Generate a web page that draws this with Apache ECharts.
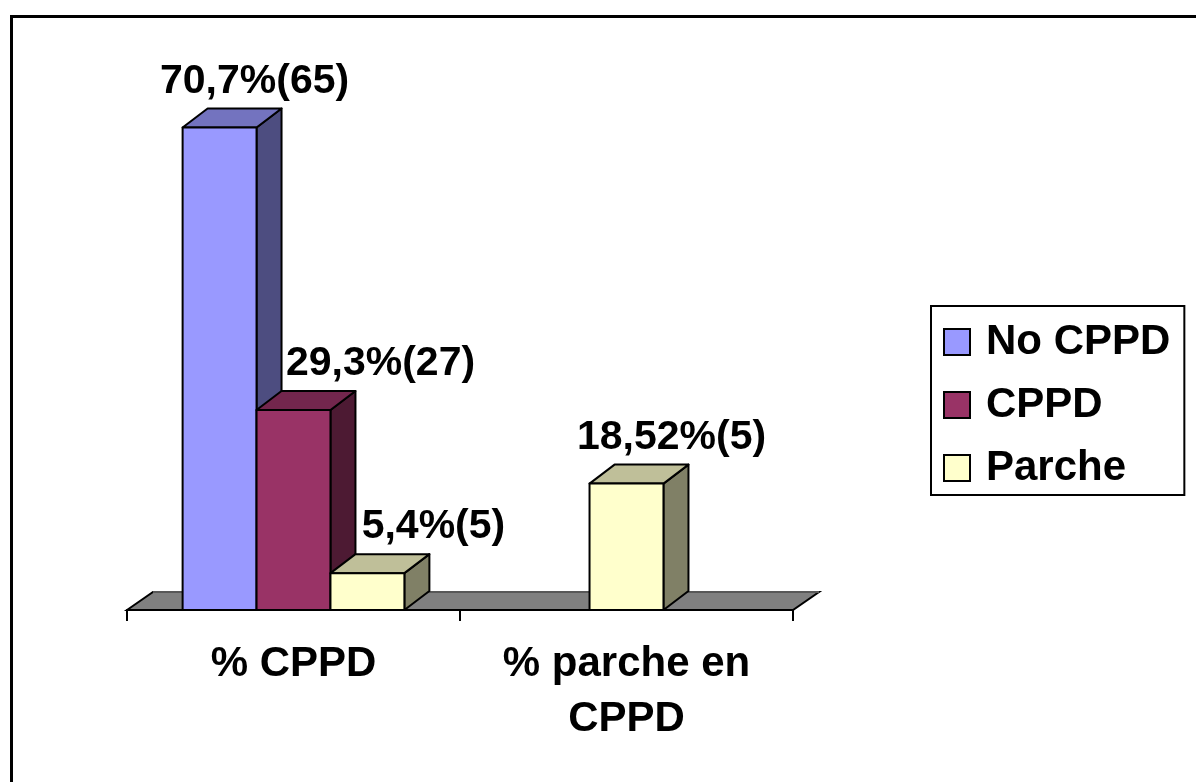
<!DOCTYPE html>
<html>
<head>
<meta charset="utf-8">
<script src="https://cdn.jsdelivr.net/npm/echarts@6/dist/echarts.min.js"></script>
<style>
  html, body { margin: 0; padding: 0; background: #ffffff; }
  #chart { width: 1196px; height: 782px; }
</style>
</head>
<body>
<div id="chart"></div>
<script>
// ---- data ----
const categories = ['% CPPD', '% parche en\nCPPD'];
const seriesNames = ['No CPPD', 'CPPD', 'Parche'];
const noCppdPct = [70.7, null];
const cppdPct = [29.3, null];
const parchePct = [5.4, 18.52];
const noCppdCount = [65, null];
const cppdCount = [27, null];
const parcheCount = [5, 5];

const pctBySeries = [noCppdPct, cppdPct, parchePct];
const countBySeries = [noCppdCount, cppdCount, parcheCount];

// ---- style ----
const FONT = '"Liberation Sans", Arial, sans-serif';
const faces = [
  { front: '#9999FF', top: '#7373BF', side: '#4D4D80' },
  { front: '#993366', top: '#73264D', side: '#4D1A33' },
  { front: '#FFFFCC', top: '#BFBF99', side: '#808066' }
];
const DEPTH_X = 25, DEPTH_Y = -19;         // oblique depth of the columns
const FLOOR_X = 26, FLOOR_Y = -18;         // oblique depth of the floor
const BAR_RATIO = 0.222;                   // column width relative to the category band
// horizontal shift of each value label from the column centre, per series / category
const labelShiftX = [[35, 0], [87, 0], [66, 45]];
const LABEL_RISE = 46;

function fmtLabel(v, n) {
  return String(v).replace('.', ',') + '%(' + n + ')';
}

function makeColumnSeries(si) {
  const data = [];
  pctBySeries[si].forEach((v, ci) => {
    if (v != null) data.push([ci, v, countBySeries[si][ci]]);
  });
  return {
    name: seriesNames[si],
    type: 'custom',
    z: 3,
    silent: true,
    itemStyle: { color: faces[si].front, borderColor: '#000', borderWidth: 2 },
    data: data,
    renderItem: function (params, api) {
      const ci = api.value(0);
      const v = api.value(1);
      const n = api.value(2);
      // columns present in this category sit side by side around its centre
      const present = [];
      pctBySeries.forEach((arr, k) => { if (arr[ci] != null) present.push(k); });
      const slot = present.indexOf(si);
      const band = api.size([1, 0])[0];
      const bw = band * BAR_RATIO;
      const topPt = api.coord([ci, v]);
      const y0 = api.coord([ci, 0])[1];
      const x0 = topPt[0] - present.length * bw / 2 + slot * bw;
      const x1 = x0 + bw;
      const yt = topPt[1];
      const f = faces[si];
      const stroke = { stroke: '#000', lineWidth: 2, lineJoin: 'round' };
      return {
        type: 'group',
        children: [
          {
            type: 'polygon',
            shape: { points: [[x1, yt], [x1 + DEPTH_X, yt + DEPTH_Y], [x1 + DEPTH_X, y0 + DEPTH_Y], [x1, y0]] },
            style: Object.assign({ fill: f.side }, stroke)
          },
          {
            type: 'polygon',
            shape: { points: [[x0, yt], [x0 + DEPTH_X, yt + DEPTH_Y], [x1 + DEPTH_X, yt + DEPTH_Y], [x1, yt]] },
            style: Object.assign({ fill: f.top }, stroke)
          },
          {
            type: 'rect',
            shape: { x: x0, y: yt, width: bw, height: y0 - yt },
            style: Object.assign({ fill: f.front }, stroke)
          },
          {
            type: 'text',
            style: {
              text: fmtLabel(v, n),
              x: (x0 + x1) / 2 + labelShiftX[si][ci],
              y: yt - LABEL_RISE,
              align: 'center',
              verticalAlign: 'middle',
              fontSize: 41,
              fontWeight: 'bold',
              fontFamily: FONT,
              fill: '#000'
            }
          }
        ]
      };
    }
  };
}

// grey floor under the columns, spanning the category axis
const floorSeries = {
  name: 'floor',
  type: 'custom',
  z: 1,
  silent: true,
  data: [[0, 0]],
  renderItem: function (params, api) {
    const cs = params.coordSys;
    const y0 = api.coord([0, 0])[1];
    const xl = cs.x, xr = cs.x + cs.width;
    return {
      type: 'group',
      children: [
        {
          type: 'polygon',
          shape: { points: [[xl, y0], [xl + FLOOR_X, y0 + FLOOR_Y], [xr + FLOOR_X, y0 + FLOOR_Y], [xr, y0]] },
          style: { fill: '#808080', stroke: '#000', lineWidth: 2 }
        },
        {
          type: 'line',
          shape: { x1: xl + FLOOR_X, y1: y0 + FLOOR_Y, x2: xr + FLOOR_X, y2: y0 + FLOOR_Y },
          style: { stroke: '#B0B0B0', lineWidth: 1 }
        }
      ]
    };
  }
};

const chart = echarts.init(document.getElementById('chart'), null, { renderer: 'canvas' });
chart.setOption({
  backgroundColor: '#ffffff',
  animation: false,
  graphic: [
    {
      type: 'rect',
      left: 9, top: 14,
      shape: { x: 0, y: 0, width: 1300, height: 900 },
      style: { fill: 'none', stroke: '#000', lineWidth: 3 },
      silent: true,
      z: -1
    }
  ],
  grid: { left: 127, right: 403, top: 64, bottom: 172 },
  legend: {
    data: seriesNames,
    orient: 'vertical',
    left: 931,
    top: 306,
    padding: [15, 14, 6, 12],
    itemWidth: 26,
    itemHeight: 26,
    itemGap: 21,
    icon: 'rect',
    borderColor: '#000',
    borderWidth: 2,
    itemStyle: { borderColor: '#000', borderWidth: 2 },
    selectedMode: false,
    textStyle: {
      fontSize: 42,
      fontWeight: 'bold',
      fontFamily: FONT,
      color: '#000',
      lineHeight: 36,
      padding: [0, 0, 0, 11]
    }
  },
  xAxis: {
    type: 'category',
    data: categories,
    axisLine: { show: true, lineStyle: { color: '#000', width: 2 } },
    axisTick: { show: true, length: 11, lineStyle: { color: '#000', width: 2 } },
    axisLabel: {
      fontSize: 42,
      fontWeight: 'bold',
      fontFamily: FONT,
      color: '#000',
      margin: 27,
      lineHeight: 55
    },
    splitLine: { show: false }
  },
  yAxis: { type: 'value', min: 0, max: 80, show: false },
  series: [floorSeries, makeColumnSeries(0), makeColumnSeries(1), makeColumnSeries(2)]
});
</script>
</body>
</html>
